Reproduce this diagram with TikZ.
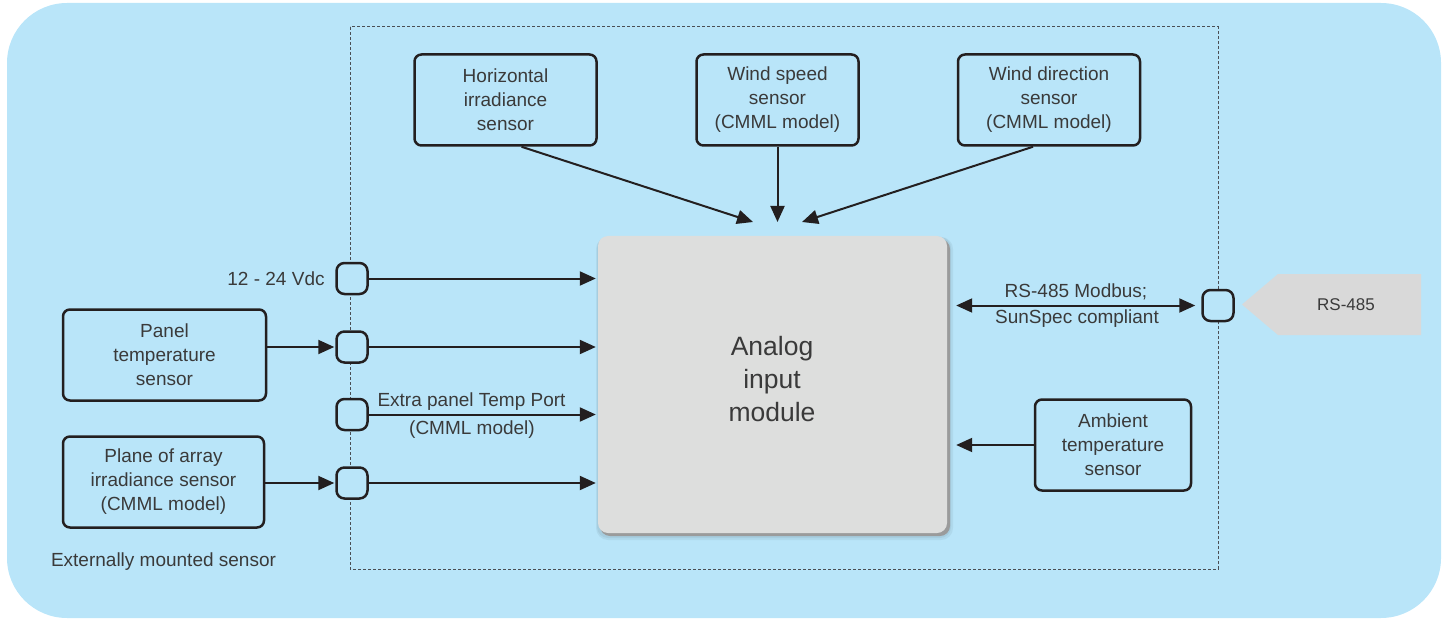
\documentclass[tikz,border=0pt]{standalone}
\usepackage{fontspec}
\setmainfont{Liberation Sans}
\usetikzlibrary{arrows.meta,calc}
\definecolor{bg}{HTML}{B9E5F9}
\definecolor{ln}{HTML}{231F20}
\definecolor{tx}{HTML}{3A3A3A}
\definecolor{modgray}{HTML}{DDDEDD}
\definecolor{shd}{HTML}{9A9B9B}
\definecolor{tag}{HTML}{D9D9D9}
\definecolor{dashc}{HTML}{4A4F55}
\begin{document}
\begin{tikzpicture}[x=1pt,y=-1pt,
  every node/.style={text=tx, font=\fontsize{19}{24}\selectfont},
  sensorbox/.style={draw=ln, line width=2.5pt, rounded corners=7pt, align=center, inner sep=0pt, minimum height=91pt},
  portbox/.style={draw=ln, fill=bg, line width=2.5pt, rounded corners=8pt, minimum width=31pt, minimum height=31pt, inner sep=0pt},
  arr/.style={draw=ln, line width=2pt, -{Triangle[length=16pt,width=14pt]}},
  darr/.style={draw=ln, line width=2pt, {Triangle[length=16pt,width=14pt]}-{Triangle[length=16pt,width=14pt]}},
  lbl/.style={inner sep=0pt, align=center}]
\useasboundingbox (0,0) rectangle (1447,620);
% background
\fill[bg, rounded corners=60pt] (7,3) rectangle (1441,618);
% dashed frame
\draw[dashc, line width=1pt, dash pattern=on 3pt off 2pt] (350,27) rectangle (1218,569);
% module shadow
\fill[black, opacity=0.05, rounded corners=12pt] (596,237) rectangle (953,540);
\fill[black, opacity=0.05, rounded corners=11pt] (597,237) rectangle (951,538);
\fill[shd, rounded corners=10pt] (600,239) rectangle (950,536);
\node[fill=modgray, rounded corners=10pt, minimum width=349pt, minimum height=297pt, inner sep=0pt] (m) at (772.5,384.5) {};
\node[lbl, font=\fontsize{26.5}{33}\selectfont, text=tx] (mt) at (772,379) {Analog\\input\\module};
% top sensors
\node[sensorbox, minimum width=182pt] (hz) at (505.5,100) {Horizontal\\irradiance\\sensor};
\node[sensorbox, minimum width=162pt] (ws) at (777.5,100) {Wind speed\\sensor\\(CMML model)};
\node[sensorbox, minimum width=182pt] (wd) at (1049,100) {Wind direction\\sensor\\(CMML model)};
% left sensors
\node[sensorbox, minimum width=203pt] (pt) at (164.5,355) {Panel\\temperature\\sensor};
\node[sensorbox, minimum width=201pt] (pa) at (163.5,482) {Plane of array\\irradiance sensor\\(CMML model)};
% right sensor
\node[sensorbox, minimum width=156pt] (am) at (1113,445) {Ambient\\temperature\\sensor};
% ports
\node[portbox] (p1) at (352,278.5) {};
\node[portbox] (p2) at (352,347) {};
\node[portbox] (p3) at (352,414.5) {};
\node[portbox] (p4) at (352,483) {};
\node[portbox] (p5) at (1218,305.5) {};
% RS-485 tag
\fill[tag] (1242,304.5) -- (1278,274) -- (1421,274) -- (1421,335) -- (1278,335) -- cycle;
\node[lbl, font=\fontsize{17}{20}\selectfont] (rs) at (1346,304.5) {RS-485};
% top arrows
\coordinate (a1) at (753,222);
\coordinate (a2) at (777.5,222);
\coordinate (a3) at (802,222);
\draw[arr] ($(hz.south)+(16,0)$) -- (a1);
\draw[arr] (ws.south) -- (a2);
\draw[arr] ($(wd.south)+(-16,0)$) -- (a3);
% left arrows
\draw[arr, shorten >=2pt] (p1.east) -- (p1.east -| m.west);
\draw[arr, shorten >=2pt] (p2.east) -- (p2.east -| m.west);
\draw[arr, shorten >=2pt] (p3.east) -- (p3.east -| m.west);
\draw[arr, shorten >=2pt] (p4.east) -- (p4.east -| m.west);
\draw[arr, shorten >=1pt] (pt.east |- p2.west) -- (p2.west);
\draw[arr, shorten >=1pt] (pa.east |- p4.west) -- (p4.west);
% right arrows
\draw[arr, shorten >=9pt] (am.west) -- (am.west -| m.east);
\draw[darr, shorten <=9pt, shorten >=6pt] (p5.west -| m.east) -- (p5.west);
% labels
\node[lbl] (vdc) at (276,278.5) {12 - 24 Vdc};
\node[lbl] (ex1) at (471.5,402) {Extra panel Temp Port};
\node[lbl] (ex2) at (472,430) {(CMML model)};
\node[lbl] (mb1) at (1076,292) {RS-485 Modbus;};
\node[lbl] (mb2) at (1077,319) {SunSpec compliant};
\node[lbl] (ext) at (163.5,562) {Externally mounted sensor};
\end{tikzpicture}
\end{document}
